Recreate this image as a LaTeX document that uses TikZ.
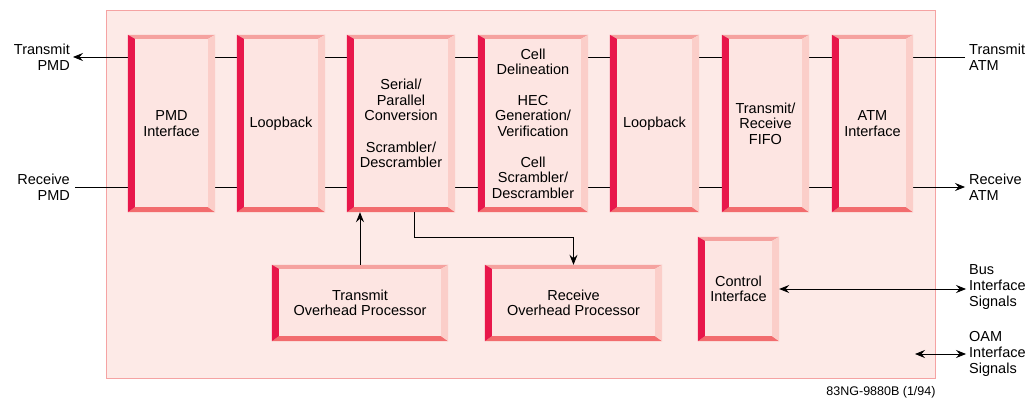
\documentclass[tikz,border=0pt]{standalone}
\usepackage{fontspec}
\setmainfont{Liberation Sans}
\usetikzlibrary{arrows.meta}
\definecolor{chipfill}{HTML}{FDEAE7}
\definecolor{chipline}{HTML}{F5A3A3}
\definecolor{face}{HTML}{FDE5E2}
\definecolor{bvL}{HTML}{E8174B}
\definecolor{bvT}{HTML}{F5A29F}
\definecolor{bvR}{HTML}{FBCEC9}
\definecolor{bvB}{HTML}{F26C6E}
\newcommand{\bevelize}[1]{%
  \fill[bvT] (#1.north west) -- (#1.north east) -- ([shift={(-7pt,-4pt)}]#1.north east) -- ([shift={(7pt,-4pt)}]#1.north west) -- cycle;
  \fill[bvB] (#1.south west) -- (#1.south east) -- ([shift={(-7pt,5pt)}]#1.south east) -- ([shift={(7pt,5pt)}]#1.south west) -- cycle;
  \fill[bvR] (#1.north east) -- (#1.south east) -- ([shift={(-7pt,5pt)}]#1.south east) -- ([shift={(-7pt,-4pt)}]#1.north east) -- cycle;
  \fill[bvL] (#1.north west) -- (#1.south west) -- ([shift={(7pt,5pt)}]#1.south west) -- ([shift={(7pt,-4pt)}]#1.north west) -- cycle;
}
\tikzset{
  txt/.style={font=\fontsize{14.5}{15.6}\selectfont, inner sep=0pt},
  blk/.style={txt, fill=face, align=center},
  tall/.style={blk, minimum height=177pt},
  lab/.style={txt},
  conn/.style={line width=0.8pt, draw=black, -{Stealth[length=10pt,width=8pt,inset=3.5pt]}},
  both/.style={line width=0.8pt, draw=black, {Stealth[length=10pt,width=8pt,inset=3.5pt]}-{Stealth[length=10pt,width=8pt,inset=3.5pt]}},
}
\begin{document}
\begin{tikzpicture}[x=1pt,y=-1pt]
\useasboundingbox (0,0) rectangle (1036,398);
\node[draw=chipline, fill=chipfill, line width=1pt, minimum width=829pt, minimum height=368pt, anchor=north west, inner sep=0pt] (chip) at (106,10) {};
% side labels
\node[lab, anchor=east, align=right] (tpmd) at (70,57) {Transmit\\PMD};
\node[lab, anchor=east, align=right] (rpmd) at (70,187) {Receive\\PMD};
\node[lab, anchor=west, align=left] (tatm) at (969,57) {Transmit\\ATM};
\node[lab, anchor=west, align=left] (ratm) at (969,187) {Receive\\ATM};
\node[lab, anchor=west, align=left] (bus) at (969,287) {Bus\\Interface\\Signals};
\node[lab, anchor=west, align=left] (oam) at (969,354) {OAM\\Interface\\Signals};
\node[font=\fontsize{12.5}{14}\selectfont, inner sep=0pt] (fn) at (881,392) {83NG-9880B (1/94)};
% data path lines (behind blocks)
\draw[conn] ([xshift=-4pt]tatm.west) -- ([xshift=3pt]tpmd.east);
\draw[conn] ([xshift=5pt]rpmd.east) -- ([xshift=-4pt]ratm.west);
% top row blocks
\node[tall, minimum width=87pt]  (pmd)  at (171.5,123.5) {PMD\\Interface};
\node[tall, minimum width=88pt]  (lb1)  at (281,123.5) {Loopback};
\node[tall, minimum width=108pt] (ser)  at (401,123.5) {Serial/\\Parallel\\Conversion\\[16pt]Scrambler/\\Descrambler};
\node[tall, minimum width=110pt] (cell) at (533,123.5) {Cell\\Delineation\\[15pt]HEC\\Generation/\\Verification\\[15pt]Cell\\Scrambler/\\Descrambler};
\node[tall, minimum width=89pt]  (lb2)  at (654.5,123.5) {Loopback};
\node[tall, minimum width=87pt]  (fifo) at (765.5,123.5) {Transmit/\\Receive\\FIFO};
\node[tall, minimum width=81pt]  (atm)  at (872.5,123.5) {ATM\\Interface};
% bottom row blocks
\node[blk, minimum width=176pt, minimum height=76pt]  (tohp) at (360,303) {Transmit\\Overhead Processor};
\node[blk, minimum width=177pt, minimum height=76pt]  (rohp) at (573.5,303) {Receive\\Overhead Processor};
\node[blk, minimum width=81pt, minimum height=104pt]  (ctrl) at (738.5,289) {Control\\Interface};
\foreach \n in {pmd,lb1,ser,cell,lb2,fifo,atm,tohp,rohp,ctrl} {\bevelize{\n}}
% connectors
\draw[conn] (tohp.north) -- (tohp.north |- ser.south);
\draw[conn] ([xshift=13pt]ser.south) -- ++(0,25) -| (rohp.north);
\draw[both] (ctrl.east) -- ([xshift=-3pt]bus.west |- ctrl.east);
\coordinate (oamend) at (915,354);
\draw[both] (oamend) -- ([xshift=-3pt]oam.west |- oamend);
\end{tikzpicture}
\end{document}
